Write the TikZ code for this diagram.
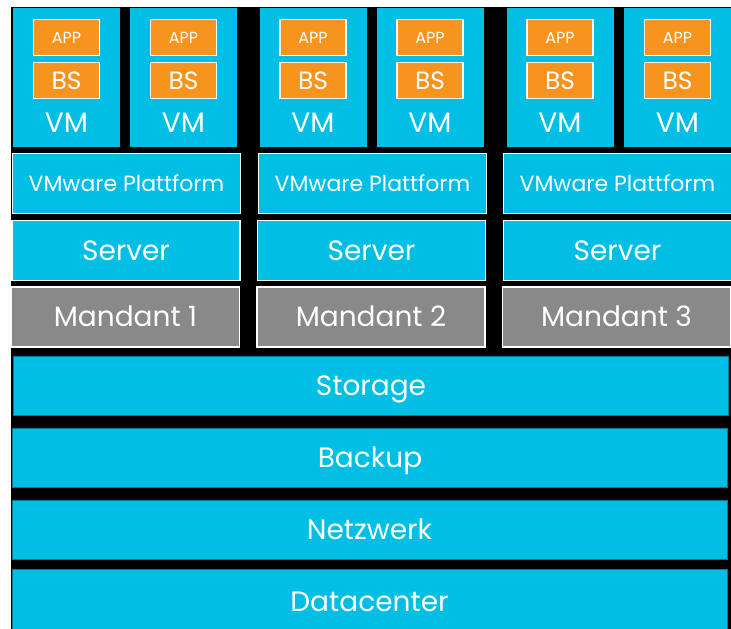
\documentclass[tikz,border=0pt]{standalone}
\usepackage{fontspec}
\setmainfont{Poppins}
\definecolor{cyanbox}{RGB}{0,190,228}
\definecolor{cyanedge}{RGB}{0,120,150}
\definecolor{orangebox}{RGB}{247,148,29}
\definecolor{graybox}{RGB}{137,137,137}
\tikzset{
  txt/.style={text=white, text depth=0pt},
  vmbox/.style={fill=cyanbox, draw=none, inner sep=0pt, outer sep=0pt, minimum width=107pt, minimum height=139pt},
  appbox/.style={txt, fill=orangebox, draw=white, line width=1.5pt, inner sep=0pt, outer sep=0pt, minimum width=66pt, minimum height=36pt, text height=11.2pt, font=\fontsize{16}{18}\selectfont},
  bsbox/.style={appbox, text height=17.5pt, font=\fontsize{25}{28}\selectfont},
  vmlabel/.style={txt, inner sep=0pt, text height=19.6pt, font=\fontsize{28}{30}\selectfont},
  platbox/.style={txt, fill=cyanbox, draw=white, line width=1.5pt, inner sep=0pt, outer sep=0pt, minimum width=228pt, minimum height=60pt, text height=15.4pt, font=\fontsize{22}{24}\selectfont},
  srvbox/.style={platbox, text height=19.6pt, font=\fontsize{28}{30}\selectfont},
  manbox/.style={srvbox, fill=graybox},
  layerbox/.style={txt, fill=cyanbox, draw=cyanedge, line width=0.8pt, inner sep=0pt, outer sep=0pt, minimum width=715pt, minimum height=59pt, text height=19.6pt, font=\fontsize{28}{30}\selectfont}
}
\begin{document}
\begin{tikzpicture}[x=1pt,y=-1pt]
\useasboundingbox (0,0) rectangle (731,629);
\fill[black] (11,7) rectangle (735,633);
% VMs
\foreach \i/\cx in {1/66.5,2/183.5,3/313,4/430,5/560,6/677.5}{
  \node[vmbox] (vm\i) at (\cx,77.5) {};
  \node[appbox] (app\i) at (\cx,37.5) {APP};
  \node[bsbox] (bs\i) at (\cx,80.5) {BS};
  \node[vmlabel] (vml\i) at (\cx,123) {VM};
}
% platforms
\node[platbox] (plat1) at (126.5,183.5) {VMware Plattform};
\node[platbox] (plat2) at (372.5,183.5) {VMware Plattform};
\node[platbox] (plat3) at (617.5,183.5) {VMware Plattform};
\node[srvbox] (srv1) at (126,250.5) {Server};
\node[srvbox] (srv2) at (371.5,250.5) {Server};
\node[srvbox] (srv3) at (617.5,250.5) {Server};
\node[manbox] (man1) at (125.5,317) {Mandant 1};
\node[manbox] (man2) at (371,317) {Mandant 2};
\node[manbox] (man3) at (616.5,317) {Mandant 3};
% layers
\node[layerbox] (storage) at (371,386) {Storage};
\node[layerbox] (backup) at (370,457.5) {Backup};
\node[layerbox] (netz) at (369.5,530) {Netzwerk};
\node[layerbox, minimum height=64pt] (dc) at (369.5,601.5) {Datacenter};
\end{tikzpicture}
\end{document}
